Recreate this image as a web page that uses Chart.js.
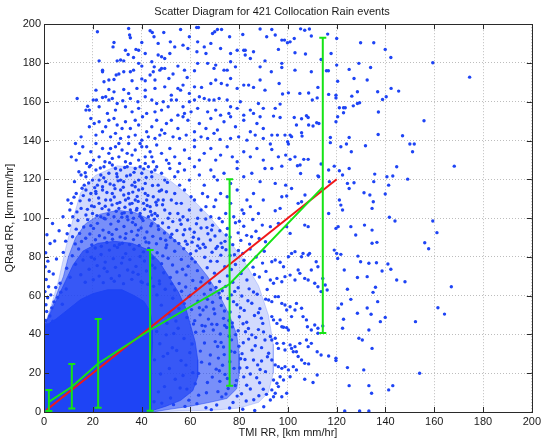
<!DOCTYPE html>
<html><head><meta charset="utf-8">
<script src="https://cdn.jsdelivr.net/npm/chart.js@4"></script>
<style>html,body{margin:0;padding:0;background:#fff}#wrap{width:544px;height:443px}</style>
</head><body><div id="wrap"><canvas id="c" width="544" height="443"></canvas></div>
<script>
const titleText = 'Scatter Diagram for 421 Collocation Rain events';
const xLabel = 'TMI RR, [km mm/hr]';
const yLabel = 'QRad RR, [km mm/hr]';
const axisMin = 0, axisMax = 200, tickStep = 20;

// bin means and error-bar limits (green)
const binX = [2.0, 11.4, 22.2, 43.5, 76.1, 114.3];
const binMean = [5.2, 13.0, 25.0, 42.3, 66.0, 116.0];
const binLow = [0.5, 1.8, 2.2, 0.6, 13.6, 40.7];
const binHigh = [11.3, 24.7, 48.0, 83.5, 120.1, 193.0];

// red 1:1 reference line
const refX = [1, 120];
const refY = [1, 120];

// saturated (solid) part of the point cloud
const coreOutline = [[0,0],[0,44],[5,48],[10,53],[15,58],[20,61],[26,63],[32,63],[37,60],[41,57],[43.5,52],[44.5,45],[44.5,36],[44,25],[44,14],[44,6],[44,0]];
// dense (mottled) part of the point cloud
const denseOutline = [[0,0],[0,44],[3,52],[6,60],[9,68],[12,76],[16,83],[22,87],[29,88],[36,87],[42,84],[47,78],[51,70],[55,62],[58,54],[60,45],[62,36],[63,27],[63,18],[61,11],[56,6],[50,3],[45,1],[44,0]];
// medium-density part of the point cloud
const mediumOutline = [[0,0],[0,44],[2,50],[5,60],[8,70],[10,80],[13,90],[17,97],[23,102],[30,104],[37,103],[44,99],[50,93],[56,86],[62,78],[67,70],[72,60],[76,50],[79,40],[80,30],[80,20],[79,12],[75,7],[68,5],[60,3],[52,1.5],[46,0.3],[44,0]];
// low-density outskirts of the point cloud
const outerOutline = [[0,0],[0,44],[3,55],[6,68],[9,85],[12,100],[15,113],[21,122],[30,127],[40,126],[50,121],[59,112],[67,102],[75,90],[82,78],[88,65],[92,50],[94,35],[94,20],[92,10],[88,5],[80,2],[70,1],[56,0.5],[44,0]];

// individual events, y >= 100, x < 92
const dotsUpper = [[21.9,196.1],[34.7,197.8],[35.1,194.4],[35.4,193],[43.5,196.6],[44.4,195.7],[49.1,195.7],[56,197.3],[62.6,198.3],[63.3,198.3],[69.1,195.2],[70,196.1],[71.1,197.3],[72.8,197.3],[81.5,194.7],[88.6,197.5],[91.3,193.5],[28.3,188.3],[28.7,190.6],[40.1,190.6],[45.1,193.5],[46.8,190.1],[51.8,190.9],[59.6,193.5],[63,190.9],[68.4,190.1],[76.1,193.5],[81.9,186.6],
[33.4,186.6],[34.5,184.4],[37.7,187],[38.8,186.6],[41.5,184.9],[46.8,184.1],[48.2,183.2],[49.5,182.3],[51.6,184.9],[53.6,188.3],[57,189.2],[59,187.5],[62.7,185.8],[65.7,188.3],[66.4,184.9],[72.4,187.5],[76.5,184.9],[79.2,186.6],[82.5,186.6],[85.9,185.8],[22.6,181.1],[24,176.3],[30,181.1],[31.4,181.5],[32.7,181.1],[36.7,182.8],[36.7,176.3],[38.8,179.8],[40.1,178.4],[44.2,180.6],[45.2,178],[48.2,177.2],[49.5,177.2],[54.9,178.4],[63,179.8],[67.1,179.8],[70.4,178.9],[73.8,176.3],[75.1,176.3],[76.5,180.6],[78.5,178],[82.5,184.1],[84.6,182.3],[88.6,178],[90.6,181.1],[61.7,176],[57.6,176.3],[69.7,177.2],
[24,175.5],[24.6,170.3],[26.6,171.2],[28.7,171.5],[29.6,173.8],[30.7,174.3],[32.7,175.5],[35.4,175.5],[36.1,170.8],[40.1,171.8],[41.5,170.8],[43.5,173.8],[44.8,175.5],[45.5,171.2],[47.5,176.3],[49.5,167.7],[51.2,172],[52.9,174.3],[54.9,166.9],[57,168.6],[58.7,172.5],[61.7,167.7],[64.6,167.4],[68.4,169.4],[70.4,171.2],[72.7,169.4],[75.1,168.6],[76.5,172],[79.2,166.9],[81.9,168.6],[83.9,168.6],[85.9,167.4],[88.6,171.2],[90.6,166],[21.3,166],[26.6,166.3],[17.2,155.7],[18.6,155.7],[28.7,165.1],[32.7,166.3],[34.7,164.3],[38.1,166.9],[41.5,166],[45.5,166.9],[52.2,163.4],[56,166],[59.6,164.3],
[20.2,160.9],[21.5,160.9],[24,162.2],[25.3,162.6],[26.6,160.9],[28,161.7],[30,159.1],[32.3,160.5],[35.4,161.7],[38.5,160],[41.5,162.6],[44.2,160.9],[46.2,159.1],[48.9,160],[52.2,160.9],[54.3,160.9],[57,157.4],[59.6,160],[61.7,160.9],[63.7,162.6],[65.7,161.7],[67.7,160.9],[69.7,160.9],[71.8,161.7],[75.1,160.9],[76.5,157.4],[79.2,156.6],[80.5,160],[84.6,155.7],[87.9,159.1],[89.9,156.6],[13.6,161.7],[17.9,157.7],[22.6,157.4],[26,154],[29.3,155.7],[33.4,157.4],[36.1,154.8],[38.8,156.6],[42.1,154],[45.5,154.8],[48.2,155.7],[50.9,157.4],[54.9,153.1],[57.6,154],[60.3,154.8],[63,156.6],[67.1,154.8],[70.4,155.7],[72.4,153.1],[75.8,154],[81.9,153.1],[85.9,154],[88.6,152.3],
[18.6,147.1],[19.2,151.4],[20.6,148.8],[22.6,149.7],[25.3,147.1],[26.6,150.5],[28.7,151.4],[30,148],[32,146.2],[33.4,149.7],[35.4,146.2],[37.4,150.5],[38.8,148],[40.4,152.3],[42.1,144.5],[44.2,147.1],[46.2,150.5],[48.2,145.4],[50.2,148.8],[52.2,150.5],[54.9,146.2],[57,152.3],[59,150.5],[61.7,144.5],[63.7,148.8],[66.4,146.2],[68.4,151.4],[71.1,145.4],[73.8,149.7],[76.5,152.3],[78.5,147.1],[81.9,150.5],[84.6,144.5],[87.3,148.8],[89.9,146.2],[15.2,141.9],[21.3,142.8],[24,144.5],[27.3,141.9],[29.3,143.7],[31.4,141.1],[34.7,141.9],[37.4,142.8],[40.1,140.2],[42.8,141.9],[45.5,141.1],[47.5,142.8],[49.5,143.7],[52.9,141.9],[55.6,141.1],[58.3,142.8],[61.7,140.2],[64.4,141.9],[67.1,141.1],[69.7,143.7],[72.2,140.6],[76.5,141.1],[79.8,141.9],[83.2,140.2],[86.6,142.8],[89.9,141.1],[12.9,138.5],
[15.9,136.8],[19.2,134.2],[21.3,138.5],[22.6,131.6],[24,135.9],[25,129.1],[26.6,133.4],[28,130.8],[29.3,136.8],[30.7,131.6],[32,135.1],[33.4,129.1],[34.7,138.5],[36.1,132.5],[37.4,135.1],[38.8,129.9],[40.1,136.8],[41.5,131.6],[43.5,134.2],[44.8,129.1],[46.2,137.7],[48.2,133.4],[50.2,129.9],[51.6,135.9],[53.6,131.6],[55.6,128.2],[57.6,135.1],[59.6,130.8],[61.7,136.8],[63.7,129.9],[65.7,133.4],[68.4,135.9],[70.4,129.9],[72.4,132.5],[75.1,136.8],[77.2,131.6],[79.2,129.1],[81.9,134.2],[84.6,131.6],[87.3,135.9],[89.9,129.9],[11.2,131.6],[13.2,129.9],[14.5,133.4],[17.5,128.2],[20.3,129.9],[35.4,128.2],[41.5,128.2],[51.2,128.2],[30.7,138.5],[39.4,138.5],[27.3,135.9],[34.1,133.4],[42.1,136.8],[44.2,131.6],
[14.3,123.9],[12.5,118.8],[15.2,122.2],[17.2,121.3],[18.6,126.5],[19.9,119.6],[21.3,124.8],[21.9,117],[23.3,122.2],[24.6,126.5],[25.3,118.8],[26.6,123.1],[28,127.4],[28.7,117],[30,121.3],[31.4,124.8],[32.7,118.8],[34.1,126.5],[35.4,122.2],[36.1,117],[37.4,125.6],[38.8,119.6],[40.1,123.1],[41.5,117.9],[42.8,126.5],[44.2,121.3],[45.5,124.8],[46.8,117],[48.2,123.1],[49.5,119.6],[51.6,125.6],[53.6,121.3],[55.6,117],[57.6,124.8],[59.6,119.6],[61.7,126.5],[63.7,122.2],[65.7,117],[68.4,124.8],[71.1,119.6],[73.8,123.1],[76.5,117.9],[79.2,125.6],[81.9,121.3],[85.2,123.1],[88.6,118.8],[90.6,125.6],[16.5,117],[24,116.2],[29.3,125.6],[37.4,116.2],[46.2,126.5],[54.9,123.9],[69.7,121.3],[31.4,119.6],[39.4,126.5],[22.6,119.6],
[9.8,109.3],[11.2,107.6],[13.2,112.7],[15.2,105],[17.2,114.5],[18.6,109.3],[19.9,102.4],[21.3,112.7],[22.6,107.6],[23.3,100.7],[24,114.5],[25.3,109.3],[26.6,104.2],[28,112.7],[28.7,100.7],[30,107.6],[31.4,114.5],[32,102.4],[33.4,109.3],[34.7,112.7],[35.4,104.2],[36.7,99.9],[37.4,109.3],[38.8,114.5],[39.4,102.4],[40.8,107.6],[41.5,112.7],[42.8,100.7],[43.5,105.9],[44.8,111],[45.5,102.4],[46.8,109.3],[48.2,114.5],[49.5,104.2],[50.9,99.9],[52.2,109.3],[53.6,112.7],[54.9,102.4],[56.3,107.6],[57.6,114.5],[59.6,104.2],[61.7,109.3],[63,99.9],[65,112.7],[66.4,105.9],[68.4,100.7],[70.4,109.3],[72.4,112.7],[74.5,102.4],[76.5,107.6],[79.2,114.5],[81.2,104.2],[83.2,109.3],[85.9,112.7],[87.9,102.4],[89.9,109.3],[7.8,100.7],[11.8,100.7],[17.2,101.6],[19.2,112.7],[20.6,105.9],[24.6,99.9],[27.3,109.3],[30.7,105],[32.7,111.9],[34.1,100.7],[36.1,107.6],[38.1,105],[40.1,99.9],[42.1,109.3],[44.2,101.6],[46.2,106.7],[48.9,109.3],[50.2,113.6],[51.6,102.4],[54.3,107.6],[57,100.7],[60.3,111],[64.4,104.2],[67.1,111],[69.7,105.9],[71.8,99.9],[75.1,111],[77.8,100.7],[81.9,102.4],[84.6,105.9],
[13.5,103.2],[14.8,108.9],[16.1,111.6],[17.8,104.5],[18.3,118.1],[19.5,106.3],[20.8,115.7],[21.7,101.3],[22.4,110.4],[23.8,104.9],[24.5,120.8],[25.8,113.2],[26.3,101.9],[27.1,117.6],[27.9,106.8],[28.8,110.9],[29.6,103.5],[30.4,119.2],[31.1,108.1],[31.9,100.5],[32.5,115.9],[33.2,105.6],[33.9,121.7],[34.6,110.2],[35.8,102.8],[36.4,113.4],[37.2,118.5],[37.9,104.1],[38.6,108.6],[39.3,100.9],[40.4,115.1],[41.2,104.6],[41.9,121],[42.6,111.7],[43.7,103.4],[44.5,116.8],[45.9,108.2],[46.5,101.2],[47.3,113.9],[16.9,123.4],[19.1,127.2],[23.1,125.8],[26.9,128.6],[29.8,122.9],[33.1,126.1],[36.9,123.6],[40.9,125.4],[44.1,123.8],[21.2,113.8],[25.1,106.1],[29.1,115.2],[32.9,102.7],[35.2,107.3],[38.2,111.2],[42.3,106.5],[15.6,115.4],[12.3,110.8],[10.6,104.2],[48.6,106.9],[50.6,118.4]];

// individual events, 40 <= y < 100, x < 92
const dotsMiddle = [[6.2,93.5],[8.9,88.1],[10.4,96.2],[11.7,90.4],[12.8,86.7],[13.9,98.8],[14.6,92.1],[15.4,87.9],[16.3,95.4],[17.1,89.6],[17.9,99.2],[18.8,91.8],[19.6,86.2],[20.3,94.7],[21.1,88.8],[21.9,97.3],[22.7,90.9],[23.5,85.5],[24.2,93.8],[25.1,99.6],[25.8,87.4],[26.6,92.6],[27.4,96.9],[28.1,89.1],[28.9,85.8],[29.7,94.2],[30.5,98.4],[31.2,90.3],[32.1,87],[32.8,95.7],[33.6,92],[34.4,99.1],[35.1,86.4],[35.9,93.1],[36.7,88.9],[37.5,96.6],[38.2,91.2],[39,85.9],[39.8,94.9],[40.6,98.7],[41.3,89.7],[42.2,92.8],[43,87.3],[43.8,96],[44.6,90.6],[45.3,99.4],[46.1,86.8],[47,94.1],[47.8,89.4],[48.6,97.5],[49.4,92.3],[50.3,86.1],[51.1,95.2],[51.9,90.1],[52.8,98.2],[53.6,88.3],[54.5,93.6],[55.3,86.9],[56.2,96.8],[57.1,91.4],[58,88.1],[58.9,99],[59.8,94.4],[60.7,87.6],[61.6,92.7],[62.5,97.1],[63.4,89.2],[64.4,94.9],[65.3,86.5],[66.3,99.5],[67.2,91.9],[68.2,88.7],[69.1,96.3],[70.1,90.8],[71.1,85.4],[72.1,93.5],[73.1,98.1],[74.2,88],[75.2,94.6],[76.3,90.2],[77.4,86.3],[78.5,97.6],[79.6,92.4],[80.7,88.5],[81.9,95.8],[83.1,91.1],[84.3,86.6],[85.6,99.3],[86.9,93.2],[88.2,89.5],[89.5,96.4],[90.8,87.8],[3.5,97.2],[9.5,91.9],[13.2,94.3],[19.2,96.1],[24.9,89.8],[30.9,86.4],[36.3,97.8],[41.8,87.7],[46.8,95.9],[52.4,91.7],[57.7,94],[63,85.7],[68.7,93.9],[74.7,91.3],[80.1,98.4],[85.1,90.4],[27.9,91.6],[33.3,89.6],[38.7,93.8],[44.2,97.1],[49.9,88.6],[55.7,99],[61.2,90.1],[66.8,95.1],[72.6,87.1],
[3.8,71.2],[5.1,78.9],[6.6,66.4],[7.9,82.3],[9.3,74.1],[10.7,69.5],[11.6,80.6],[12.9,76.2],[14.2,84.1],[15.1,70.8],[16,78.4],[16.9,66.9],[17.7,82.7],[18.5,73.6],[19.4,79.8],[20.2,68.2],[21,84.6],[21.8,75.5],[22.6,70.1],[23.4,81.2],[24.3,66.7],[25.1,77.3],[25.9,72.4],[26.8,83.5],[27.6,68.9],[28.4,79.1],[29.3,74.6],[30.1,84.9],[30.9,70.3],[31.8,76.8],[32.6,66.2],[33.5,81.7],[34.3,73.2],[35.2,78.6],[36,68.4],[36.9,83.9],[37.7,75.1],[38.6,71],[39.4,80.2],[40.3,66.8],[41.2,77.9],[42,72.7],[42.9,84.3],[43.8,69.1],[44.7,79.4],[45.5,74.3],[46.4,82.1],[47.3,67.6],[48.2,76.5],[49.1,71.8],[50,84.7],[50.9,79.3],[51.8,69.4],[52.7,75.8],[53.6,82.9],[54.5,72.2],[55.4,66.3],[56.3,78.7],[57.3,84.2],[58.2,70.7],[59.1,75.2],[60.1,81.6],[61,67.8],[62,77.3],[62.9,72.9],[63.9,84.5],[64.9,69.2],[65.9,79.8],[66.9,74.4],[67.9,66.5],[68.9,82.4],[69.9,71.6],[71,77.7],[72,67.3],[73.1,84.8],[74.1,74.9],[75.2,70.2],[76.3,80.7],[77.4,66.9],[78.5,76.1],[79.7,83.3],[80.8,71.4],[82,78.3],[83.2,68.1],[84.5,84],[85.7,74.7],[87,79.9],[88.3,69.6],[89.6,76.8],[91,72.5],[20.7,78.9],[24.7,74.1],[28.8,67.4],[32.3,79.6],[36.5,72.1],[40.8,82.6],[44.3,75.7],[48.7,80.5],[52.3,66.1],[56.8,73.6],[60.6,79],[64.3,67.1],[68.3,77.8],[72.5,80.9],[76.8,73.5],[81.5,81.8],[86.3,70.9],[90.3,82.9],[58.7,86.5],[62.4,83.1],[66.1,85],[70.5,84.3],[74.6,83.7],[78.1,81.1],
[0.6,47.2],[1.1,51.8],[0.8,55.3],[1.5,58.9],[0.4,62.1],[1.9,64.6],[2.4,49.5],[3.2,53.7],[4.1,56.8],[2.8,60.4],[5.6,59.1],[6.9,61.8],[4.8,64.2],[7.5,55.6],[9.1,63.4],[1.3,44.9],[3.6,46.8],[0.9,68.3],[2.1,72.5],[1.6,77.8],[0.7,82.1],[2.5,86.9],[1.2,91.4],[4.4,88.2],[0.5,74.9],
[56.4,62.3],[57.5,55.9],[58.6,48.7],[59.4,59.6],[60.5,52.8],[61.3,45.4],[62.2,63.7],[63.1,57.2],[64,50.1],[64.8,44.6],[65.7,60.8],[66.5,54.2],[67.4,47.9],[68.3,63.1],[69.1,56.6],[70,50.7],[70.9,45.1],[71.8,61.4],[72.7,54.9],[73.6,48.3],[74.5,64.8],[75.4,58.5],[76.3,51.6],[77.2,45.9],[78.2,62.2],[79.1,55.3],[80.1,49.1],[81.1,59.8],[82.1,52.4],[83.1,46.3],[84.1,63.5],[85.2,56.1],[86.3,49.8],[87.4,60.7],[88.5,53.3],[89.7,45.7],[90.9,58.2],[58.1,64.5],[61.8,47.1],[65.2,52.6],[68.8,45.3],[72.3,58.9],[75.8,47.2],[79.6,64.1],[83.6,57.4],[87.9,51.2],[91.5,63.2],[60,60.2],[63.7,53.8],[67,58.1],[70.5,64.2],[74,52.1],[77.7,56.9],[81.6,45.5],[85.9,61.9],[89.1,48.4],[66.1,44.3],[69.6,53.1],[73.1,62.5],[76.8,60.4],[80.6,53.7],
[46.3,60.4],[48.1,55.1],[49.7,63.3],[51.2,50.6],[52.8,58.7],[54.1,46.9],[55.3,53.4],[47.4,66.1],[50.4,45.8],[53.6,62.9],[44.9,64.8],[42.6,65.9],[39.8,67.2]];

// individual events, y < 44, 44 <= x < 92
const dotsLowerRight = [[46.2,41.5],[47.5,35.2],[48.9,28.7],[50.1,39.8],[51.4,22.4],[52.6,33.1],[53.8,16.9],[55,43.2],[56.2,26.5],[57.4,37.9],[58.6,11.8],[59.8,30.6],[61,20.3],[62.2,41.1],[63.4,8.7],[64.6,25.7],[65.8,35.6],[67,15.2],[68.2,29.4],[69.4,42.3],[70.6,22.1],[49.4,13.1],[51.9,7.2],[54.4,31.7],[57,18.8],[59.4,6.1],[62,14.6],[64.1,31.4],[66.6,9.9],[69,18],[45.3,26.9],[47.8,19.6],[50.7,30.2],[53.2,40.5],[55.8,12.4],[58.2,24.2],[60.7,35.1],[63.3,19.9],[65.4,41.7],[67.9,24.8],[70.2,36.3],[46.9,10.4],[48.3,4.6],[53.1,3.8],[57.8,2.9],[62.7,4.3],[66.4,2.2],[45.1,5.3],[71.3,10.5],[72.1,15.8],
[70.8,3.6],[71.5,27.8],[72.3,40.2],[72.9,7.8],[73.6,33.5],[74.2,19.4],[74.9,43.6],[75.5,12.1],[76.2,25.9],[76.9,37.2],[77.5,4.9],[78.2,30.8],[78.9,16.3],[79.6,41.9],[80.3,22.7],[81,9.4],[81.7,35.7],[82.4,27.1],[83.1,13.8],[83.8,43.1],[84.6,19.6],[85.3,31.9],[86,6.3],[86.8,38.4],[87.6,24.3],[88.4,15.1],[89.2,33.2],[90,41.3],[90.8,20.8],[91.6,28.5],[71.9,21.3],[73.9,29.6],[75.9,39.1],[77.9,22.5],[79.9,33.9],[81.9,18.1],[83.9,37.6],[85.9,26.8],[87.9,42.5],[89.9,11.7],[72.6,35.9],[74.6,9.3],[76.6,31.3],[78.6,39.9],[80.6,27.5],[82.6,41.4],[84.6,11.9],[86.6,34.2],[88.6,21.9],[90.6,37.1],[73.2,24.1],[75.2,17.3],[77.2,43.9],[79.2,8.2],[81.2,30.1],[83.2,22.9],[85.2,39.8],[87.2,17.7],[89.2,26.3],[91.2,9.1],[76.1,2.1],[81.5,1.4],[86.4,0.8],[90.1,2.7],[68.6,1.2],[74.1,44.6],[78.4,13.7],[82.9,5.7],[88.1,8.4],[71.2,33.8]];

// individual events, x >= 92
const dotsFar = [[93.4,197.3],[94.8,194.4],[97.5,191.8],[98.6,191.8],[99.8,190.4],[100.9,190.9],[102.6,192.6],[105.2,197.6],[106.9,196.9],[108.8,197.5],[109.6,193.9],[116.3,194.9],[120,192.6],[129.8,190.4],[135.2,190.4],[139.9,187],[142.2,182.8],[96.1,187],[102.9,185.3],[107.2,184.6],[113.6,181.8],[117.7,184.9],[93.2,175.5],[97.5,179.8],[97.5,177.7],[102.9,176.3],[109.6,175.5],[115.8,176],[116.6,176],[120,178.9],[125.1,176.7],[129.1,179.8],[133.9,177.7],[159.4,180.1],[174.5,172.7],[120.4,170.6],[127.1,172],[132.5,171.2],[96.4,169.4],[100.2,164.6],[104.9,164.3],[108.5,164.5],[112.3,167.4],[116.7,163.8],[119.7,163.4],[119.7,162],[126.2,162.9],[128.5,165.2],[136.8,165.2],[142.3,166.9],[145.4,165.5],[140.3,162.6],[138.8,161.2],[97.8,164],[110,160.9],[112,162],[121.1,156.9],[122.8,156.9],[123.5,156.9],[126.8,157.9],[128.5,159.1],[129.4,159.5],[137.1,154.7],[96.8,158.8],[94.8,156.6],[94.1,152.6],[96.8,151.9],[102.6,151.9],[105.6,151.2],[107.6,152.8],[108.3,151.9],[111.8,149.2],[112.7,148.8],[108.5,148],[103.5,148],[120.4,152.3],[119.7,149.7],[122.8,154.3],[155.8,150.2],[93.4,142.8],[95.7,142.8],[98.8,142.8],[100.9,142.8],[101.5,142],[105.6,144],[105.8,142.3],[110.3,147.5],[117.4,141.6],[117.4,138.9],[121.7,136.8],[124,138.2],[125.1,141.6],[131.8,137.3],[137,143.1],[147,142.5],[150,138.2],[151.8,138.2],[151.1,134.2],[92.8,138.2],[100.2,138.2],[99.9,139.4],[126,134.2],[93.4,135.4],[99.1,132.5],[102.9,131.6],[100.9,130.3],[106.5,130.3],[108.3,130.3],[105,127.4],[103.9,127],[96.1,131.6],[97.5,126.8],[113.6,127.9],[119,126.8],[121.1,124.4],[125.1,125.6],[122.4,122.2],[144.6,126.5],[168.2,126.8],[149.1,120.1],[140.6,121.3],[141.3,117],[143,121.7],[135.6,122.7],[135.2,118.8],[124.4,117.9],[125.1,115.3],[127.1,118.2],[131.2,113.1],[133.6,111.9],[139.9,112.4],[116.7,124.8],[117,118.8],[112.3,121.8],[112.6,121.3],[105.2,123],[93.4,125.6],[94.8,117.9],[99.1,117],[101.5,115.3],[99.5,111.4],[97.5,111],[104.2,107.6],[105.6,108.4],[107,111.9],[94.8,103.8],[96.8,105],[121.1,109.3],[121.7,106.7],[122.4,104.2],[135,108.4],[134.5,105],[116.7,102.4],[141.6,100.4],
[92.8,95.6],[96.1,97.3],[99.5,95.6],[100.9,92.1],[106.9,96.4],[108.3,95.6],[119.7,94.7],[120.6,95.6],[125.8,95.6],[127.8,91.3],[131.4,96.4],[134.5,93.8],[134.5,87],[136.5,87.5],[143.9,98.5],[159.4,98.5],[161.1,92.5],[156.1,87.3],[157.7,84.2],[119,83.5],[120,81.8],[121.7,81.3],[128.7,80.4],[129.8,77.5],[133.2,76.7],[136.3,77],[138.6,72.7],[141,76.3],[142.2,73.6],[144.6,68.1],[148,67.2],[167,64.6],[120.4,79.2],[123.1,73.2],[114.3,68.9],[115.3,65.5],[116.1,62.9],[124.4,63.3],[128.5,69.4],[132.5,69.8],[135.9,64.3],[134.9,61.7],[125.8,58.1],[122,55.7],[120.6,53.5],[132.5,53.6],[136.8,56.9],[139.9,48.8],[137.9,46.6],[134.1,50.4],[122.8,47.8],[128.5,50.9],[161.5,53.8],[164.2,50.5],[152.3,46.6],[122.4,43.2],[133.2,42.3],[129.1,38],[130.5,37.1],[134.5,32.8],[119.7,27.7],[119.7,26.5],[116.7,28.9],[113.6,29.4],[112,31.1],[124.4,22.9],[131.1,21.7],[154,20],[125.1,13.6],[133.2,13.6],[134.3,9.7],[141.3,11.4],[143,13.6],[123.3,0.5],[129.4,0.5],[133.2,0.5],[110.3,15.2],[112,19.1],[106.9,16.9],[108.5,24.8],[112.3,40.6],[114.3,44.4],
[93.4,77.5],[94.8,78.4],[96.8,77.2],[98.2,74.9],[100.2,80.1],[101.5,81.8],[102.9,82.7],[105.6,80.1],[106.2,81.8],[108.3,81],[108.9,81.8],[111.6,77.5],[112.3,74.9],[92.8,68.1],[94.1,66.4],[95.5,68.9],[97.5,67.2],[98.8,69.8],[100.9,70.6],[102.9,68.1],[104.2,73.2],[104.9,71.5],[106.9,68.9],[108.3,68.1],[109.6,73.2],[111,66.4],[112.3,64.6],[113.6,62.1],[92.1,57.8],[93.4,56.9],[94.8,59.5],[96.1,59.5],[97.5,56],[98.8,55.2],[99.5,52.6],[100.9,54.3],[101.5,49.2],[102.9,52.6],[103.5,56],[105.6,53.5],[106.2,49.2],[107.6,47.5],[108,44],[109.6,42.3],[111,44.9],[112.3,43.2],[93.4,49.2],[94.1,47.5],[95.5,45.7],[96.8,47.5],[97.5,44],[98.2,43.7],[99.5,43.5],[100.2,42.3],[92.8,38.9],[93.4,37.1],[94.8,38],[95.5,35.4],[96.1,32.8],[98.2,35.4],[98.8,32],[100.9,34.6],[101.5,32.8],[102.2,31.1],[102.9,33.7],[103.5,31.1],[104.2,28.6],[104.9,35.4],[105.6,26.8],[106.9,25.1],[107.6,37.1],[108.3,33.7],[109.6,35.4],[92.1,30.3],[93.4,26.8],[94.8,24.3],[96.1,23.4],[97.5,22.5],[98.8,23.4],[100.2,21.7],[102.2,23.4],[103.5,21.7],[94.1,16.5],[95.5,14.8],[96.8,18.2],[98.2,16.5],[99.5,9.7],[100.9,18.2],[93.4,11.4],[94.8,9.7],[96.1,13.1],[92.8,6.2],[94.1,7.9],[97.5,7.9]];

const BLUE = '#1e44f5';
const GREEN = '#16e316';
const RED = '#f01818';
const FONT = {family: '"Liberation Sans", Arial, sans-serif', size: 11, weight: 'normal'};
const TEXT = '#1a1a1a';

const toXY = arr => arr.map(p => ({x: p[0], y: p[1]}));
const allDots = [].concat(dotsUpper, dotsMiddle, dotsLowerRight, dotsFar);

const frame = {
  id: 'frame',
  afterDatasetsDraw(chart) {
    const {ctx, chartArea: a, scales: {x, y}} = chart;
    ctx.save();
    ctx.strokeStyle = GREEN; ctx.lineWidth = 2;
    binX.forEach((bx, i) => {
      const px = x.getPixelForValue(bx);
      const pt = y.getPixelForValue(binHigh[i]);
      const pb = y.getPixelForValue(binLow[i]);
      ctx.beginPath();
      ctx.moveTo(px, pt); ctx.lineTo(px, pb);
      ctx.moveTo(px - 3.5, pt); ctx.lineTo(px + 3.5, pt);
      ctx.moveTo(px - 3.5, pb); ctx.lineTo(px + 3.5, pb);
      ctx.stroke();
    });
    ctx.strokeStyle = '#2a2a2a'; ctx.lineWidth = 1;
    ctx.strokeRect(Math.round(a.left) + 0.5, Math.round(a.top) + 0.5, Math.round(a.right - a.left), Math.round(a.bottom - a.top));
    ctx.beginPath();
    x.ticks.forEach(t => {
      const px = Math.round(x.getPixelForValue(t.value)) + 0.5;
      ctx.moveTo(px, a.bottom); ctx.lineTo(px, a.bottom - 5);
      ctx.moveTo(px, a.top); ctx.lineTo(px, a.top + 5);
    });
    y.ticks.forEach(t => {
      const py = Math.round(y.getPixelForValue(t.value)) + 0.5;
      ctx.moveTo(a.left, py); ctx.lineTo(a.left + 5, py);
      ctx.moveTo(a.right, py); ctx.lineTo(a.right - 5, py);
    });
    ctx.stroke();
    ctx.restore();
  }
};

const tier = (label, outline, alpha, order) => ({
  label, data: toXY(outline), showLine: true, borderColor: 'rgba(30,68,245,' + alpha + ')', borderWidth: 1,
  backgroundColor: 'rgba(30,68,245,' + alpha + ')', pointRadius: 0, fill: 'shape', order
});

new Chart(document.getElementById('c'), {
  type: 'scatter',
  data: {
    datasets: [
      {label: 'bin mean', data: binX.map((v, i) => ({x: v, y: binMean[i]})), showLine: true, borderColor: GREEN, borderWidth: 2, pointRadius: 0, fill: false, order: 0},
      {label: '1:1', data: refX.map((v, i) => ({x: v, y: refY[i]})), showLine: true, borderColor: RED, borderWidth: 2, pointRadius: 0, fill: false, order: 1},
      {label: 'events', data: toXY(allDots), pointRadius: 1.7, pointBackgroundColor: BLUE, pointBorderWidth: 0, order: 2},
      tier('core', coreOutline, 1, 3),
      tier('dense', denseOutline, 0.72, 4),
      tier('medium', mediumOutline, 0.5, 5),
      tier('outer', outerOutline, 0.2, 6)
    ]
  },
  options: {
    responsive: false,
    animation: false,
    events: [],
    plugins: {
      legend: {display: false},
      tooltip: {enabled: false},
      title: {display: true, text: titleText, font: FONT, color: TEXT, padding: {top: 5, bottom: 6}}
    },
    scales: {
      x: {
        type: 'linear', min: axisMin, max: axisMax,
        ticks: {stepSize: tickStep, padding: 3, font: FONT, color: TEXT, maxRotation: 0},
        grid: {color: '#bdbdbd', drawTicks: false},
        border: {display: false, dash: [1, 2]},
        title: {display: true, text: xLabel, font: FONT, color: TEXT, padding: {top: 0, bottom: 3}},
        afterFit(s) { s.height = 31; }
      },
      y: {
        type: 'linear', min: axisMin, max: axisMax,
        ticks: {stepSize: tickStep, padding: 3, font: FONT, color: TEXT},
        grid: {color: '#bdbdbd', drawTicks: false},
        border: {display: false, dash: [1, 2]},
        title: {display: true, text: yLabel, font: FONT, color: TEXT, padding: {top: 3, bottom: 0}},
        afterFit(s) { s.width = 44; }
      }
    }
  },
  plugins: [frame]
});
</script>
</body></html>
